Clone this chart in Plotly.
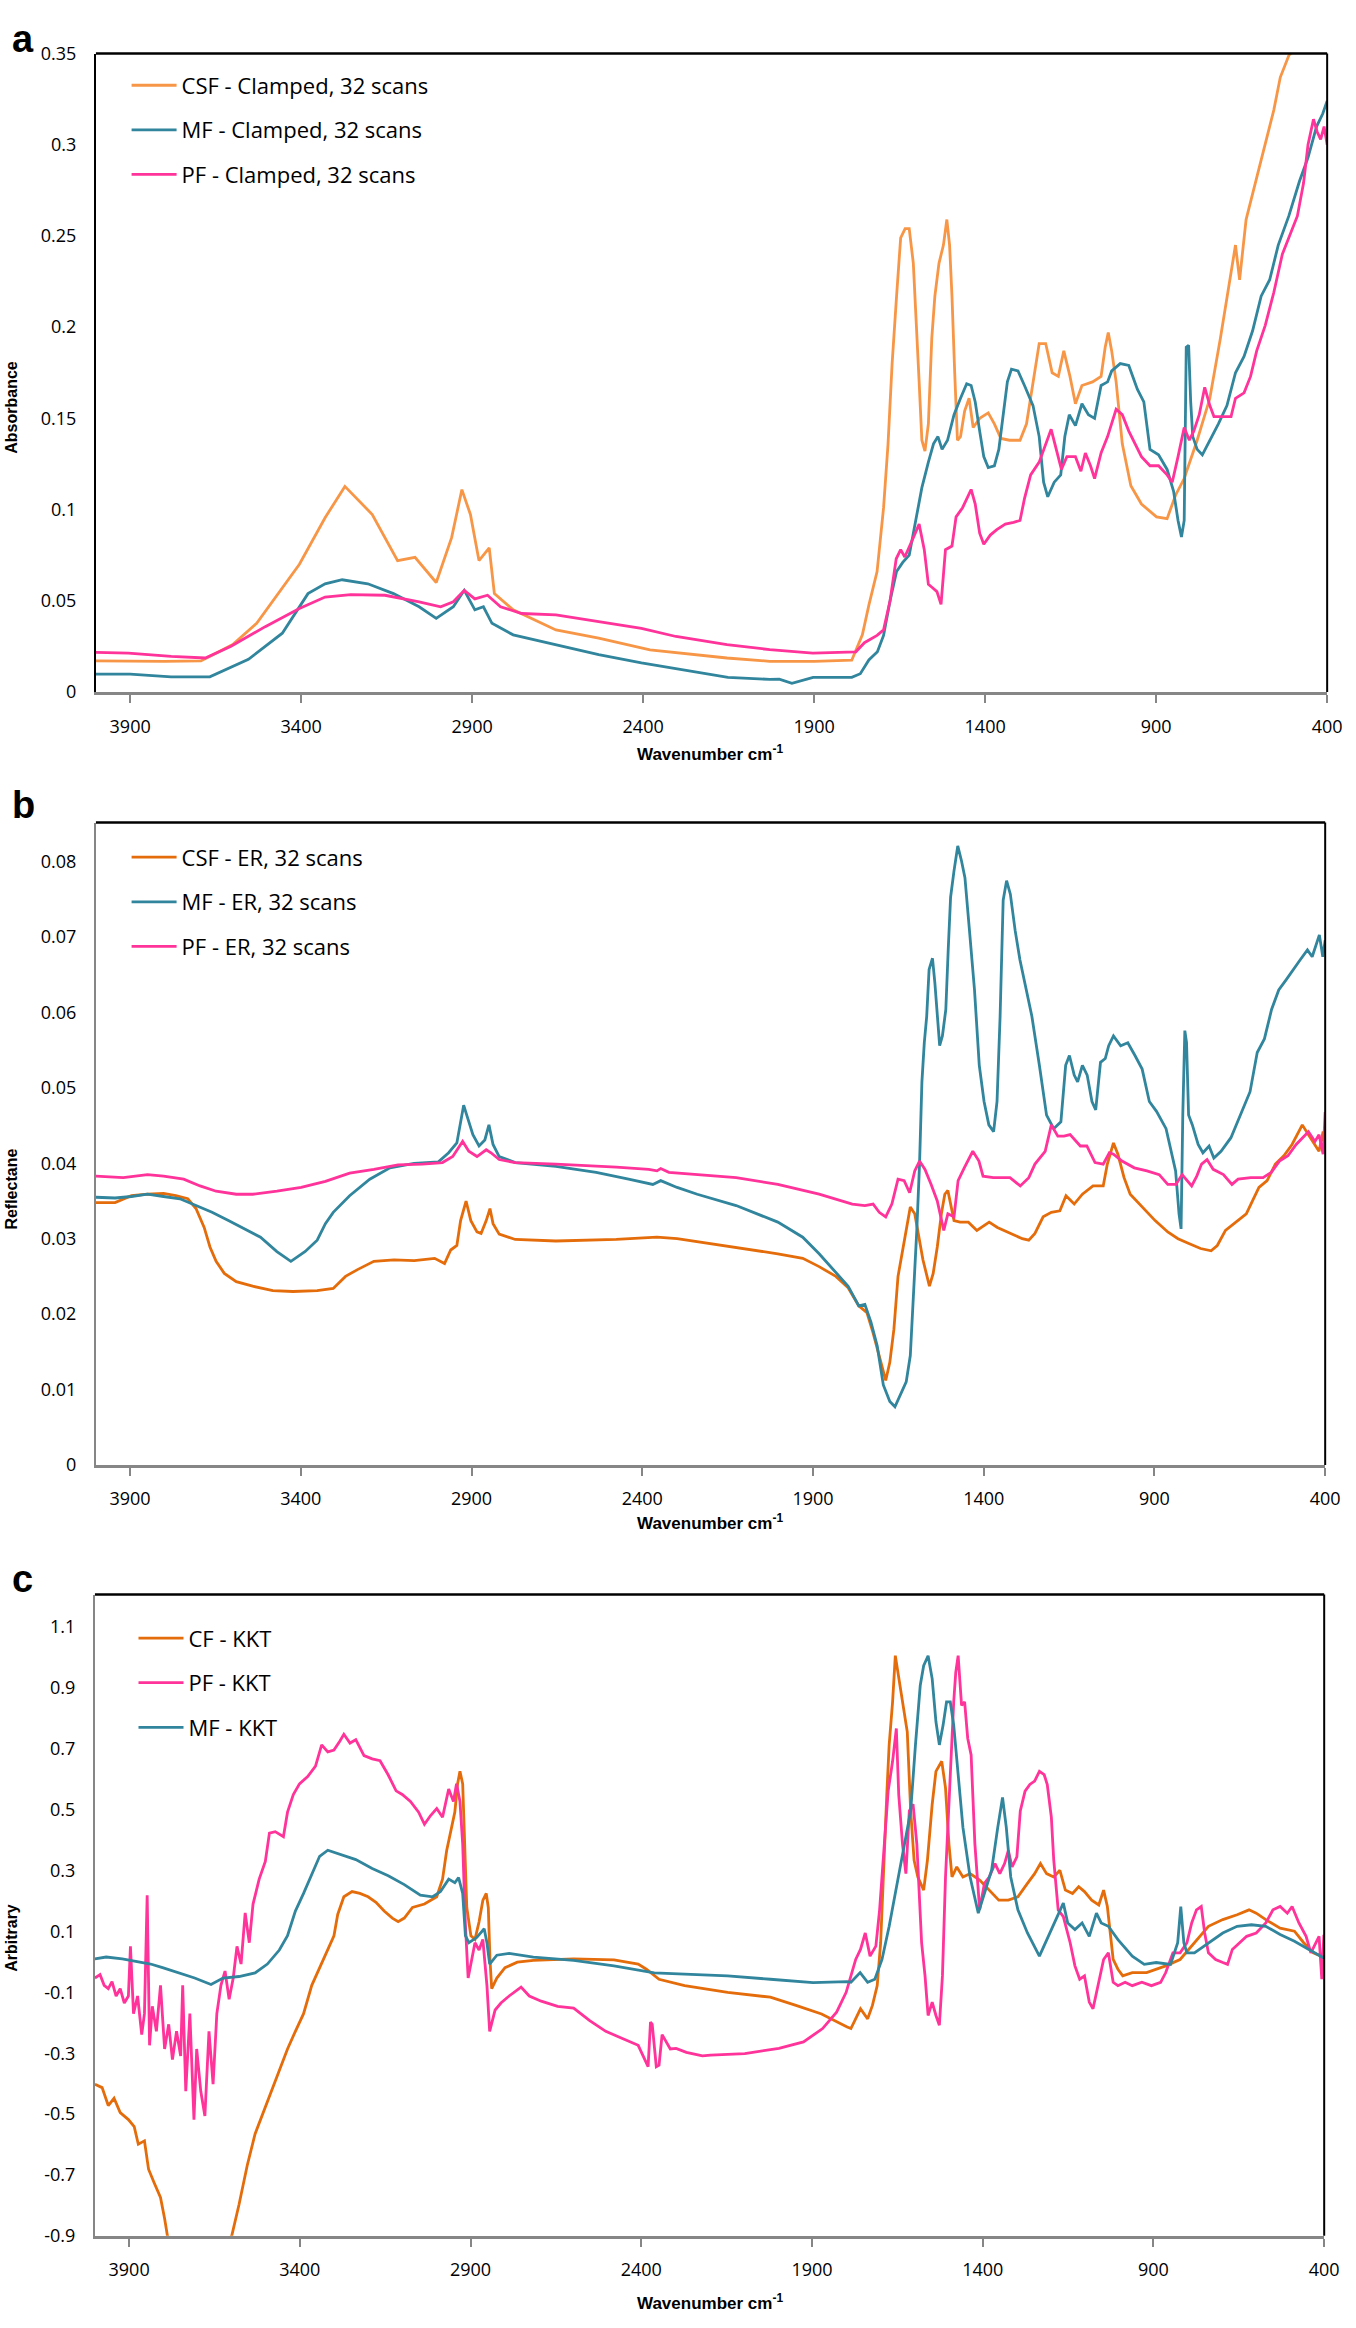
import plotly.graph_objects as go

W, H = 1356, 2328

# ---------------- Panel a (Absorbance) ----------------
A_CSF_WN = [4000, 3900, 3800, 3693, 3600, 3530, 3405, 3330, 3272, 3192, 3118, 3067, 3005, 2960, 2930, 2905, 2880, 2850, 2835,
            2780, 2655, 2530, 2380, 2155, 2030, 1900, 1790, 1759, 1740, 1716, 1697, 1684, 1672, 1659, 1647, 1634, 1622, 1610,
            1603, 1593, 1585, 1576, 1566, 1556, 1547, 1535, 1522, 1512, 1504, 1497, 1489, 1481, 1472, 1460, 1447, 1435, 1416,
            1391, 1373, 1354, 1329, 1298, 1279, 1260, 1242, 1223, 1204, 1186, 1170, 1152, 1136, 1117, 1086, 1061, 1049, 1040,
            1030, 1017, 999, 974, 943, 899, 868, 843, 818, 780, 743, 712, 693, 668, 656, 637, 606, 581, 556, 537, 512, 487, 460, 400]
A_CSF_VAL = [0.017, 0.0168, 0.0168, 0.017, 0.026, 0.0376, 0.070, 0.0955, 0.1127, 0.0973, 0.072, 0.0738, 0.060, 0.0846, 0.1109, 0.0973, 0.072, 0.079, 0.054,
             0.045, 0.034, 0.0295, 0.023, 0.0186, 0.0168, 0.0168, 0.0174, 0.0313, 0.0476, 0.066, 0.101, 0.1357, 0.180, 0.217, 0.249, 0.254, 0.254, 0.235,
             0.205, 0.170, 0.138, 0.132, 0.147, 0.194, 0.217, 0.235, 0.245, 0.259, 0.245, 0.217, 0.175, 0.138, 0.140, 0.154, 0.161, 0.145, 0.150,
             0.153, 0.147, 0.139, 0.138, 0.138, 0.147, 0.170, 0.191, 0.191, 0.175, 0.173, 0.187, 0.173, 0.158, 0.168, 0.170, 0.173, 0.189, 0.197,
             0.187, 0.170, 0.136, 0.113, 0.103, 0.096, 0.095, 0.108, 0.117, 0.138, 0.161, 0.194, 0.215, 0.245, 0.226, 0.259, 0.282, 0.300, 0.319, 0.337, 0.349, 0.354, 0.37, 0.40]

A_MF_WN = [4000, 3900, 3780, 3667, 3554, 3455, 3380, 3330, 3280, 3205, 3130, 3055, 3005, 2955, 2923, 2892, 2867, 2842, 2780,
           2655, 2530, 2405, 2314, 2280, 2152, 2030, 2002, 1965, 1903, 1790, 1765, 1740, 1715, 1697, 1678, 1659, 1641, 1622, 1603,
           1585, 1566, 1551, 1538, 1526, 1510, 1491, 1472, 1454, 1441, 1429, 1416, 1404, 1391, 1373, 1360, 1348, 1335, 1323, 1304,
           1285, 1260, 1242, 1229, 1217, 1198, 1179, 1167, 1154, 1136, 1117, 1098, 1080, 1061, 1042, 1030, 1005, 980, 955, 936, 918,
           893, 868, 849, 836, 826, 818, 812, 805, 799, 793, 780, 765, 743, 718, 693, 668, 643, 618, 593, 568, 543, 512, 481, 456,
           431, 413, 400]
A_MF_VAL = [0.0098, 0.0098, 0.0083, 0.0083, 0.0179, 0.0322, 0.0539, 0.0593, 0.0615, 0.0593, 0.0539, 0.0467, 0.0403, 0.0467, 0.0557, 0.045, 0.0467, 0.0376, 0.0313,
            0.0259, 0.0205, 0.0159, 0.013, 0.0123, 0.008, 0.0069, 0.007, 0.0047, 0.008, 0.008, 0.010, 0.0175, 0.022, 0.031, 0.050, 0.066, 0.071, 0.075, 0.094,
            0.112, 0.126, 0.136, 0.140, 0.133, 0.138, 0.152, 0.161, 0.169, 0.168, 0.159, 0.143, 0.129, 0.123, 0.124, 0.133, 0.152, 0.170, 0.177, 0.176,
            0.168, 0.157, 0.140, 0.115, 0.107, 0.115, 0.119, 0.140, 0.152, 0.146, 0.158, 0.152, 0.150, 0.168, 0.170, 0.176, 0.180, 0.179, 0.166, 0.159, 0.133,
            0.130, 0.122, 0.110, 0.094, 0.085, 0.094, 0.189, 0.190, 0.159, 0.140, 0.133, 0.130, 0.138, 0.147, 0.157, 0.175, 0.184, 0.198, 0.217, 0.226, 0.245, 0.261, 0.280, 0.293,
            0.310, 0.317, 0.324]

A_PF_WN = [4000, 3905, 3780, 3680, 3605, 3505, 3405, 3330, 3255, 3155, 3055, 2992, 2955, 2923, 2892, 2855, 2817, 2755, 2655,
           2530, 2405, 2304, 2155, 2030, 1904, 1778, 1753, 1716, 1697, 1678, 1660, 1647, 1635, 1616, 1593, 1578, 1566, 1553, 1541,
           1529, 1516, 1497, 1485, 1466, 1454, 1441, 1429, 1416, 1404, 1385, 1366, 1341, 1317, 1298, 1285, 1267, 1242, 1223, 1207,
           1192, 1177, 1161, 1136, 1120, 1107, 1092, 1080, 1061, 1042, 1017, 999, 980, 961, 943, 918, 893, 868, 853, 836, 818, 803,
           790, 774, 758, 743, 731, 706, 681, 668, 643, 624, 606, 581, 556, 531, 506, 487, 469, 456, 440, 429, 419, 409, 400]
A_PF_VAL = [0.0217, 0.0213, 0.0195, 0.0186, 0.025, 0.0358, 0.0457, 0.052, 0.0533, 0.053, 0.0494, 0.0467, 0.0494, 0.0557, 0.051, 0.053, 0.0467, 0.043, 0.0422,
            0.0385, 0.0349, 0.0304, 0.0259, 0.0232, 0.0213, 0.022, 0.027, 0.031, 0.034, 0.050, 0.073, 0.078, 0.074, 0.082, 0.092, 0.078, 0.059, 0.057, 0.055,
            0.048, 0.078, 0.080, 0.096, 0.101, 0.106, 0.111, 0.103, 0.087, 0.081, 0.086, 0.089, 0.092, 0.093, 0.094, 0.106, 0.119, 0.126, 0.136, 0.144,
            0.133, 0.122, 0.129, 0.129, 0.121, 0.131, 0.124, 0.117, 0.131, 0.140, 0.155, 0.152, 0.143, 0.136, 0.129, 0.124, 0.124, 0.119, 0.115, 0.129, 0.145, 0.138,
            0.143, 0.152, 0.167, 0.157, 0.151, 0.151, 0.151, 0.161, 0.164, 0.173, 0.187, 0.201, 0.219, 0.240, 0.252, 0.261, 0.279, 0.300, 0.314, 0.307, 0.303, 0.310, 0.300]

# ---------------- Panel b (Reflectance) ----------------
B_CSF_WN = [4000, 3944, 3896, 3849, 3802, 3766, 3731, 3707, 3683, 3666, 3648, 3624, 3589, 3541, 3482, 3423, 3352, 3305, 3269,
            3234, 3186, 3127, 3068, 3008, 2979, 2961, 2943, 2932, 2916, 2902, 2884, 2872, 2857, 2846, 2837, 2819, 2772, 2653,
            2476, 2357, 2298, 2239, 2168, 2125, 2003, 1930, 1882, 1833, 1797, 1766, 1742, 1724, 1706, 1687, 1675, 1663, 1651,
            1639, 1627, 1615, 1602, 1590, 1578, 1566, 1559, 1548, 1536, 1524, 1514, 1505, 1496, 1487, 1469, 1445, 1420, 1384,
            1360, 1323, 1287, 1268, 1250, 1226, 1202, 1177, 1159, 1135, 1111, 1080, 1050, 1038, 1020, 1007, 989, 971, 940, 898,
            861, 831, 801, 765, 734, 716, 692, 667, 631, 594, 570, 546, 521, 497, 467, 449, 430, 418, 406, 400]
B_CSF_VAL = [0.0348, 0.0348, 0.0357, 0.0359, 0.036, 0.0357, 0.0353, 0.034, 0.0315, 0.0289, 0.0270, 0.0254, 0.0243, 0.0237, 0.0231, 0.0230, 0.0231, 0.0234, 0.0250,
             0.0259, 0.0270, 0.0272, 0.0271, 0.0274, 0.0267, 0.0285, 0.0291, 0.0324, 0.0350, 0.0324, 0.0309, 0.0307, 0.0324, 0.0340, 0.0320, 0.0306, 0.0299, 0.0297,
             0.0299, 0.0302, 0.0300, 0.0296, 0.0291, 0.0289, 0.0280, 0.0274, 0.0263, 0.0250, 0.0235, 0.0211, 0.0202, 0.0175, 0.0145, 0.0112, 0.0136, 0.0180, 0.0250,
             0.0281, 0.0311, 0.0342, 0.0333, 0.0302, 0.0272, 0.0250, 0.0237, 0.0254, 0.0289, 0.0333, 0.0359, 0.0364, 0.0342, 0.0324, 0.0322, 0.0322, 0.0311, 0.0322,
             0.0315, 0.0307, 0.0300, 0.0298, 0.0307, 0.0329, 0.0335, 0.0337, 0.0357, 0.0346, 0.0359, 0.0370, 0.0370, 0.0399, 0.0427, 0.0412, 0.0381, 0.0359, 0.0344, 0.0324,
             0.0309, 0.0300, 0.0294, 0.0287, 0.0284, 0.0291, 0.0311, 0.0320, 0.0333, 0.0368, 0.0377, 0.0399, 0.0410, 0.0425, 0.0451, 0.0438, 0.0425, 0.0416, 0.0442, 0.0420]

B_MF_WN = [4000, 3944, 3896, 3849, 3802, 3754, 3707, 3660, 3612, 3565, 3518, 3470, 3429, 3387, 3352, 3328, 3305, 3257, 3198,
           3139, 3068, 2997, 2967, 2943, 2932, 2923, 2914, 2896, 2878, 2861, 2849, 2837, 2819, 2772, 2653, 2535, 2440, 2369, 2346,
           2298, 2239, 2168, 2125, 2003, 1930, 1882, 1833, 1797, 1766, 1748, 1730, 1712, 1694, 1675, 1660, 1645, 1627, 1615, 1605,
           1596, 1588, 1581, 1574, 1567, 1560, 1550, 1543, 1535, 1529, 1521, 1511, 1504, 1497, 1487, 1476, 1465, 1455, 1441, 1427,
           1413, 1399, 1385, 1371, 1361, 1352, 1343, 1333, 1322, 1308, 1294, 1280, 1259, 1237, 1216, 1195, 1174, 1160, 1149, 1135,
           1125, 1111, 1097, 1083, 1072, 1058, 1044, 1034, 1020, 999, 978, 957, 936, 915, 894, 866, 852, 838, 828, 822, 817, 811,
           806, 800, 789, 772, 758, 740, 726, 705, 676, 648, 620, 599, 578, 557, 536, 515, 494, 473, 452, 438, 417, 407, 400]
B_MF_VAL = [0.0355, 0.0354, 0.0356, 0.0359, 0.0356, 0.0353, 0.0344, 0.0335, 0.0324, 0.0313, 0.0302, 0.0283, 0.0270, 0.0283, 0.0298, 0.0320, 0.0335, 0.0357, 0.0379,
            0.0394, 0.0400, 0.0402, 0.0414, 0.0427, 0.0455, 0.0477, 0.0464, 0.0438, 0.0423, 0.0431, 0.0451, 0.0425, 0.0409, 0.0401, 0.0396, 0.0388, 0.0379, 0.0372, 0.0377,
            0.0368, 0.0359, 0.0350, 0.0344, 0.0322, 0.0302, 0.0280, 0.0256, 0.0237, 0.0211, 0.0213, 0.0189, 0.0158, 0.0106, 0.0084, 0.0077, 0.0092, 0.0110, 0.0145, 0.0224,
            0.0311, 0.0399, 0.0508, 0.0560, 0.0595, 0.0657, 0.0672, 0.0639, 0.0595, 0.0556, 0.0569, 0.0604, 0.0683, 0.0753, 0.0788, 0.0821, 0.0801, 0.0779, 0.0705, 0.0630,
            0.0530, 0.0482, 0.0451, 0.0442, 0.0482, 0.0595, 0.0749, 0.0775, 0.0757, 0.0709, 0.0670, 0.0639, 0.0595, 0.0530, 0.0464, 0.0446, 0.0455, 0.0530, 0.0543, 0.0517,
            0.0508, 0.0530, 0.0517, 0.0482, 0.0471, 0.0534, 0.0539, 0.0556, 0.0569, 0.0556, 0.0560, 0.0543, 0.0525, 0.0482, 0.0469, 0.0446, 0.0420, 0.0390, 0.0333, 0.0313, 0.0464, 0.0576,
            0.0560, 0.0464, 0.0451, 0.0425, 0.0414, 0.0423, 0.0407, 0.0416, 0.0434, 0.0464, 0.0495, 0.0547, 0.0565, 0.0604, 0.0630, 0.0643, 0.0657, 0.0670, 0.0683, 0.0674, 0.0703, 0.0674, 0.0696]

B_PF_WN = [4000, 3920, 3849, 3802, 3743, 3695, 3648, 3589, 3541, 3470, 3399, 3328, 3257, 3186, 3115, 3044, 2985, 2955, 2926,
           2908, 2884, 2857, 2843, 2819, 2772, 2653, 2476, 2381, 2357, 2346, 2322, 2246, 2125, 2003, 1882, 1785, 1748, 1724, 1706,
           1687, 1669, 1651, 1633, 1617, 1602, 1588, 1572, 1554, 1536, 1517, 1505, 1487, 1475, 1457, 1432, 1414, 1402, 1372, 1323,
           1293, 1268, 1250, 1220, 1202, 1183, 1165, 1147, 1117, 1098, 1074, 1050, 1032, 1020, 995, 959, 922, 886, 861, 837, 819,
           807, 791, 776, 762, 746, 728, 698, 673, 655, 618, 582, 558, 534, 509, 485, 467, 449, 430, 418, 406, 400]
B_PF_VAL = [0.0383, 0.0381, 0.0385, 0.0383, 0.0379, 0.0370, 0.0363, 0.0359, 0.0359, 0.0363, 0.0368, 0.0376, 0.0387, 0.0392, 0.0398, 0.0399, 0.0401, 0.0409, 0.0429,
            0.0416, 0.0409, 0.0418, 0.0414, 0.0405, 0.0401, 0.0399, 0.0395, 0.0392, 0.0390, 0.0393, 0.0388, 0.0385, 0.0381, 0.0372, 0.0359, 0.0346, 0.0344, 0.0346, 0.0335,
            0.0329, 0.0346, 0.0379, 0.0377, 0.0361, 0.0390, 0.0403, 0.0392, 0.0372, 0.0350, 0.0311, 0.0333, 0.0329, 0.0377, 0.0394, 0.0416, 0.0403, 0.0383, 0.0381, 0.0381,
            0.0370, 0.0381, 0.0399, 0.0416, 0.0451, 0.0436, 0.0436, 0.0438, 0.0423, 0.0423, 0.0401, 0.0399, 0.0414, 0.0412, 0.0403, 0.0394, 0.0390, 0.0385, 0.0372, 0.0372, 0.0385,
            0.0379, 0.0370, 0.0383, 0.0399, 0.0405, 0.0392, 0.0385, 0.0372, 0.0379, 0.0381, 0.0381, 0.0388, 0.0403, 0.0410, 0.0425, 0.0434, 0.0442, 0.0429, 0.0438, 0.0412, 0.0468]

# ---------------- Panel c (Arbitrary, KKT) ----------------
C_CF_WN = [4000, 3979, 3961, 3944, 3926, 3902, 3885, 3873, 3855, 3843, 3826, 3808, 3796, 3788, 3760, 3700, 3640, 3599, 3578,
           3554, 3531, 3507, 3483, 3460, 3436, 3413, 3389, 3365, 3342, 3318, 3300, 3289, 3271, 3247, 3224, 3200, 3177, 3153, 3129,
           3112, 3094, 3070, 3035, 2999, 2982, 2970, 2958, 2946, 2938, 2931, 2923, 2917, 2911, 2899, 2887, 2875, 2864, 2854, 2848,
           2843, 2838, 2823, 2799, 2763, 2716, 2598, 2480, 2409, 2385, 2348, 2273, 2147, 2022, 1947, 1872, 1797, 1786, 1758, 1737,
           1723, 1709, 1699, 1688, 1681, 1674, 1664, 1656, 1646, 1632, 1621, 1611, 1601, 1590, 1573, 1562, 1548, 1537, 1520, 1509,
           1499, 1490, 1476, 1458, 1437, 1409, 1381, 1353, 1325, 1297, 1269, 1248, 1231, 1213, 1192, 1174, 1158, 1137, 1119, 1102,
           1081, 1060, 1046, 1035, 1018, 1004, 990, 962, 920, 892, 864, 822, 780, 739, 697, 655, 620, 599, 571, 529, 487, 460, 432, 404, 400]
C_CF_VAL = [-0.402, -0.413, -0.472, -0.448, -0.495, -0.518, -0.541, -0.599, -0.588, -0.681, -0.727, -0.774, -0.843, -0.898, -1.0, -1.08, -1.0, -0.898, -0.797,
            -0.669, -0.565, -0.495, -0.425, -0.355, -0.286, -0.228, -0.170, -0.077, -0.019, 0.039, 0.086, 0.156, 0.214, 0.231, 0.225, 0.214, 0.196, 0.167, 0.144,
            0.132, 0.144, 0.179, 0.190, 0.214, 0.272, 0.365, 0.434, 0.492, 0.585, 0.626, 0.585, 0.388, 0.179, 0.086, 0.074, 0.132, 0.202, 0.225, 0.179,
            0.005, -0.088, -0.053, -0.019, -0.001, 0.005, 0.010, 0.007, -0.007, -0.024, -0.057, -0.078, -0.100, -0.116, -0.143, -0.171, -0.214, -0.219, -0.154, -0.187,
            -0.143, -0.078, 0.063, 0.388, 0.550, 0.713, 0.854, 1.006, 0.930, 0.832, 0.756, 0.496, 0.334, 0.279, 0.236, 0.334, 0.518, 0.626, 0.659, 0.572,
            0.388, 0.279, 0.312, 0.279, 0.290, 0.269, 0.236, 0.203, 0.203, 0.214, 0.258, 0.290, 0.323, 0.290, 0.279, 0.301, 0.236, 0.225, 0.247, 0.231,
            0.203, 0.187, 0.236, 0.182, 0.008, -0.024, -0.046, -0.035, -0.035, -0.024, -0.013, 0.008, 0.063, 0.117, 0.139, 0.155, 0.171, 0.160, 0.139, 0.111, 0.101, 0.063, 0.030, 0.019, 0.015]

C_PF_WN = [4000, 3985, 3973, 3961, 3950, 3938, 3926, 3914, 3902, 3896, 3887, 3875, 3863, 3855, 3847, 3840, 3832, 3820, 3808,
           3796, 3784, 3773, 3761, 3749, 3743, 3734, 3722, 3710, 3702, 3690, 3678, 3666, 3654, 3643, 3631, 3619, 3607, 3595, 3584,
           3572, 3560, 3548, 3537, 3519, 3501, 3489, 3472, 3448, 3436, 3419, 3401, 3377, 3354, 3336, 3318, 3300, 3283, 3271, 3253,
           3236, 3212, 3188, 3165, 3141, 3118, 3100, 3076, 3052, 3035, 3017, 2999, 2982, 2964, 2950, 2941, 2931, 2923, 2915, 2907,
           2899, 2887, 2875, 2864, 2852, 2844, 2828, 2811, 2787, 2752, 2728, 2693, 2645, 2598, 2551, 2504, 2457, 2409, 2380, 2373,
           2368, 2356, 2348, 2339, 2315, 2298, 2268, 2221, 2197, 2097, 1997, 1925, 1869, 1828, 1800, 1772, 1758, 1744, 1730, 1713,
           1702, 1688, 1677, 1664, 1653, 1646, 1635, 1625, 1615, 1604, 1593, 1579, 1569, 1560, 1548, 1537, 1527, 1518, 1509, 1499,
           1492, 1485, 1479, 1472, 1462, 1453, 1444, 1434, 1423, 1409, 1395, 1381, 1364, 1350, 1336, 1325, 1314, 1300, 1290, 1276,
           1262, 1248, 1234, 1220, 1211, 1199, 1192, 1179, 1164, 1144, 1130, 1116, 1102, 1088, 1077, 1063, 1046, 1032, 1018, 1004,
           983, 962, 934, 906, 879, 864, 843, 822, 802, 788, 774, 760, 750, 739, 718, 697, 683, 669, 648, 627, 599, 571, 550, 529,
           508, 494, 474, 453, 439, 425, 415, 407, 401]
C_PF_VAL = [-0.053, -0.042, -0.077, -0.088, -0.065, -0.112, -0.088, -0.135, -0.112, 0.051, -0.170, -0.112, -0.239, -0.170, 0.219, -0.274, -0.146, -0.228, -0.077,
            -0.286, -0.205, -0.321, -0.228, -0.309, -0.077, -0.425, -0.170, -0.518, -0.286, -0.425, -0.506, -0.228, -0.402, -0.170, -0.077, -0.030, -0.123, -0.053, 0.051,
            -0.007, 0.161, 0.063, 0.190, 0.272, 0.330, 0.423, 0.428, 0.411, 0.492, 0.550, 0.585, 0.609, 0.643, 0.713, 0.690, 0.696, 0.725, 0.748, 0.719,
            0.730, 0.678, 0.667, 0.661, 0.614, 0.562, 0.550, 0.527, 0.492, 0.452, 0.481, 0.504, 0.475, 0.568, 0.527, 0.585, 0.527, 0.388, 0.121, -0.053,
            -0.007, 0.063, 0.039, 0.074, -0.077, -0.228, -0.158, -0.135, -0.112, -0.083, -0.112, -0.129, -0.146, -0.152, -0.193, -0.228, -0.251, -0.274, -0.344, -0.198,
            -0.205, -0.344, -0.339, -0.239, -0.286, -0.284, -0.297, -0.309, -0.306, -0.301, -0.284, -0.263, -0.219, -0.165, -0.100, 0.008, 0.041, 0.095, 0.019, 0.052,
            0.171, 0.410, 0.561, 0.659, 0.767, 0.550, 0.388, 0.290, 0.496, 0.518, 0.388, 0.063, -0.046, -0.176, -0.132, -0.176, -0.208, -0.046, 0.279, 0.518,
            0.713, 0.854, 0.951, 1.006, 0.843, 0.854, 0.735, 0.680, 0.388, 0.171, 0.258, 0.279, 0.323, 0.290, 0.323, 0.366, 0.312, 0.345, 0.496, 0.561,
            0.583, 0.594, 0.626, 0.615, 0.583, 0.475, 0.334, 0.171, 0.149, 0.063, -0.013, -0.057, -0.046, -0.132, -0.154, -0.078, 0.008, 0.030, -0.067, -0.078,
            -0.067, -0.078, -0.067, -0.078, -0.067, -0.035, 0.030, 0.030, 0.063, 0.128, 0.171, 0.182, 0.095, 0.030, 0.008, -0.002, -0.008, 0.041, 0.063, 0.084, 0.095, 0.128, 0.171, 0.182,
            0.160, 0.182, 0.128, 0.084, 0.030, 0.063, 0.084, -0.057, 0.089]

C_MF_WN = [4000, 3967, 3920, 3873, 3837, 3802, 3755, 3708, 3660, 3625, 3578, 3531, 3495, 3460, 3436, 3413, 3389, 3365, 3342,
           3318, 3283, 3236, 3188, 3141, 3094, 3047, 3011, 2988, 2964, 2946, 2935, 2923, 2915, 2905, 2882, 2860, 2852, 2844, 2823,
           2787, 2716, 2598, 2480, 2362, 2273, 2147, 2022, 1897, 1797, 1786, 1759, 1737, 1716, 1695, 1674, 1653, 1632, 1611, 1597,
           1583, 1573, 1560, 1548, 1537, 1527, 1516, 1506, 1495, 1485, 1472, 1458, 1437, 1423, 1413, 1395, 1374, 1356, 1342, 1331,
           1318, 1297, 1269, 1234, 1213, 1185, 1164, 1151, 1130, 1109, 1088, 1067, 1053, 1032, 1004, 962, 927, 892, 850, 829, 820,
           811, 802, 780, 739, 697, 655, 613, 571, 529, 487, 446, 404, 400]
C_MF_VAL = [0.010, 0.016, 0.010, -0.001, -0.007, -0.019, -0.036, -0.053, -0.074, -0.053, -0.048, -0.036, -0.007, 0.039, 0.086, 0.167, 0.225, 0.289, 0.347,
            0.367, 0.353, 0.336, 0.307, 0.283, 0.254, 0.219, 0.214, 0.231, 0.272, 0.260, 0.277, 0.225, 0.086, 0.063, 0.080, 0.109, 0.063, -0.007, 0.022,
            0.028, 0.016, 0.005, -0.013, -0.036, -0.040, -0.046, -0.057, -0.068, -0.065, -0.067, -0.035, -0.067, -0.057, 0.008, 0.117, 0.247, 0.366, 0.496, 0.713,
            0.908, 0.973, 1.006, 0.930, 0.789, 0.713, 0.778, 0.854, 0.854, 0.778, 0.626, 0.442, 0.279, 0.203, 0.160, 0.225, 0.301, 0.442, 0.540, 0.442,
            0.279, 0.171, 0.095, 0.019, 0.073, 0.139, 0.193, 0.128, 0.106, 0.128, 0.084, 0.160, 0.128, 0.117, 0.073, 0.019, -0.008, -0.002, -0.008, 0.063, 0.182,
            0.063, 0.030, 0.030, 0.063, 0.095, 0.117, 0.122, 0.117, 0.090, 0.068, 0.041, 0.014, 0.012]

# Tick labels
X_TICKS = [3900, 3400, 2900, 2400, 1900, 1400, 900, 400]
A_YTICKS = [0, 0.05, 0.1, 0.15, 0.2, 0.25, 0.3, 0.35]
A_YTEXT = ["0", "0.05", "0.1", "0.15", "0.2", "0.25", "0.3", "0.35"]
B_YTICKS = [0, 0.01, 0.02, 0.03, 0.04, 0.05, 0.06, 0.07, 0.08]
B_YTEXT = ["0", "0.01", "0.02", "0.03", "0.04", "0.05", "0.06", "0.07", "0.08"]
C_YTICKS = [-0.9, -0.7, -0.5, -0.3, -0.1, 0.1, 0.3, 0.5, 0.7, 0.9, 1.1]
C_YTEXT = ["-0.9", "-0.7", "-0.5", "-0.3", "-0.1", "0.1", "0.3", "0.5", "0.7", "0.9", "1.1"]

ORANGE_LIGHT = "#F79646"
ORANGE = "#E46C0A"
TEAL = "#31859C"
PINK = "#FF3399"
LW = 2.8

def px_x(p):
    return p / W

def px_y(p):
    return 1 - p / H

panels = [
    dict(x="x", y="y", xd=(97, 1342), yd=(41, 686), yr=[0, 0.35], yt=A_YTICKS, ytx=A_YTEXT, title="Absorbance",
         letter="a", letter_y=26, xt_y=748, leg="legend", leg_xy=(128, 52), left="#000000", ytitle_y=398),
    dict(x="x2", y="y2", xd=(97, 1340), yd=(818, 1467), yr=[0, 0.0852], yt=B_YTICKS, ytx=B_YTEXT, title="Reflectane",
         letter="b", letter_y=800, xt_y=1525, leg="legend2", leg_xy=(128, 832), left="#868686", ytitle_y=1188),
    dict(x="x3", y="y3", xd=(96, 1339), yd=(1598, 2246), yr=[-0.9, 1.207], yt=C_YTICKS, ytx=C_YTEXT, title="Arbitrary",
         letter="c", letter_y=1582, xt_y=2313, leg="legend3", leg_xy=(135, 1621), left="#868686", ytitle_y=1945),
]

fig = go.Figure()

series = [
    (0, "CSF - Clamped, 32 scans", A_CSF_WN, A_CSF_VAL, ORANGE_LIGHT),
    (0, "MF - Clamped, 32 scans", A_MF_WN, A_MF_VAL, TEAL),
    (0, "PF - Clamped, 32 scans", A_PF_WN, A_PF_VAL, PINK),
    (1, "CSF - ER, 32 scans", B_CSF_WN, B_CSF_VAL, ORANGE),
    (1, "MF - ER, 32 scans", B_MF_WN, B_MF_VAL, TEAL),
    (1, "PF - ER, 32 scans", B_PF_WN, B_PF_VAL, PINK),
    (2, "CF - KKT", C_CF_WN, C_CF_VAL, ORANGE),
    (2, "PF - KKT", C_PF_WN, C_PF_VAL, PINK),
    (2, "MF - KKT", C_MF_WN, C_MF_VAL, TEAL),
]

for i, (pi, name, xs, ys, col) in enumerate(series):
    p = panels[pi]
    fig.add_trace(go.Scatter(x=xs, y=ys, mode="lines", name=name,
                             line=dict(color=col, width=LW),
                             xaxis=p["x"], yaxis=p["y"], legend=p["leg"],
                             legendgroup=f"g{i}"))

TICK_FONT = dict(family="Open Sans, Arial, sans-serif", size=18, color="#000000")
LEG_FONT = dict(family="Open Sans, Arial, sans-serif", size=22, color="#000000")

layout = dict(width=W, height=H, margin=dict(l=0, r=0, t=0, b=0),
              paper_bgcolor="white", plot_bgcolor="white", showlegend=True)
annotations = []
shapes = []
for k, p in enumerate(panels):
    sfx = "" if k == 0 else str(k + 1)
    layout["xaxis" + sfx] = dict(domain=[px_x(p["xd"][0]), px_x(p["xd"][1])], range=[4000, 400],
                                 anchor=p["y"], tickmode="array", tickvals=X_TICKS,
                                 ticktext=[str(v) for v in X_TICKS], ticks="outside", ticklen=8,
                                 tickwidth=2, tickcolor="#868686", showgrid=False, zeroline=False,
                                 showline=True, linecolor="#868686", linewidth=3,
                                 tickfont=TICK_FONT, ticklabelstandoff=8)
    layout["yaxis" + sfx] = dict(domain=[px_y(p["yd"][1]), px_y(p["yd"][0])], range=p["yr"],
                                 anchor=p["x"], tickmode="array", tickvals=p["yt"], ticktext=p["ytx"],
                                 ticks="", showgrid=False, zeroline=False, showline=True,
                                 linecolor=p["left"], linewidth=2, tickfont=TICK_FONT,
                                 ticklabelstandoff=14)
    shapes.append(dict(type="line", xref=p["x"] + " domain", yref=p["y"] + " domain",
                       x0=0, x1=1, y0=1, y1=1, line=dict(color="#000000", width=2.5)))
    shapes.append(dict(type="line", xref=p["x"] + " domain", yref=p["y"] + " domain",
                       x0=1, x1=1, y0=0, y1=1, line=dict(color="#000000", width=2)))
    layout[p["leg"]] = dict(x=px_x(p["leg_xy"][0]), y=px_y(p["leg_xy"][1]), xanchor="left", yanchor="top",
                            bgcolor="rgba(0,0,0,0)", font=LEG_FONT, tracegroupgap=13,
                            itemwidth=45)
    annotations.append(dict(text=f"<b>{p['letter']}</b>", x=px_x(10), y=px_y(p["letter_y"]),
                            xref="paper", yref="paper", xanchor="left", yanchor="middle",
                            showarrow=False, font=dict(family="Liberation Sans, Arial", size=38, color="#000")))
    annotations.append(dict(text=f"<b>{p['title']}</b>", x=px_x(12), y=px_y(p["ytitle_y"]),
                            xref="paper", yref="paper", xanchor="center", yanchor="middle", textangle=-90,
                            showarrow=False, font=dict(family="Liberation Sans, Arial", size=16, color="#000")))
    annotations.append(dict(text="<b>Wavenumber cm<sup>-1</sup></b>", x=px_x(718), y=px_y(p["xt_y"]),
                            xref="paper", yref="paper", xanchor="center", yanchor="middle",
                            showarrow=False, font=dict(family="Liberation Sans, Arial", size=17, color="#000")))

layout["annotations"] = annotations
layout["shapes"] = shapes
fig.update_layout(**layout)

fig.write_html("out.html", config={"displayModeBar": False},
               post_script="document.body.style.margin='0';document.body.style.overflow='hidden';")
